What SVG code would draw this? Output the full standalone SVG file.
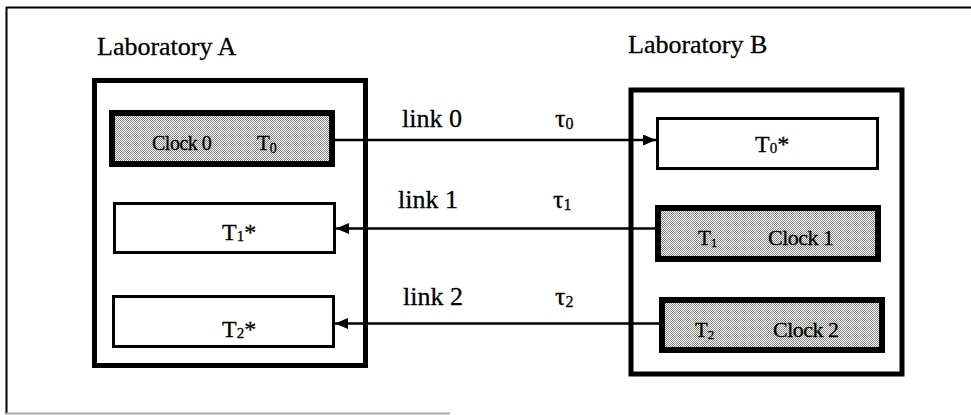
<svg xmlns="http://www.w3.org/2000/svg" width="971" height="415" viewBox="0 0 971 415">
  <style>
    .lab { fill: none; stroke: #000; stroke-width: 5; }
    .thin { fill: #fff; stroke: #000; stroke-width: 3; }
    .clock { fill: url(#dots); stroke: #000; stroke-width: 6; }
    .t { font-family: "Liberation Serif", "Times New Roman", serif; fill: #000; stroke: #000; stroke-width: 0.3; }
    .big { font-size: 26px; }
    .mid { font-size: 24px; }
    .link { stroke: #000; stroke-width: 2.5; fill: none; }
  </style>
  <defs>
    <pattern id="dots" x="0" y="0" width="2" height="2" patternUnits="userSpaceOnUse">
      <rect x="0" y="0" width="2" height="2" fill="#ffffff"/>
      <rect x="0" y="0" width="1" height="1" fill="#858585"/>
      <rect x="1" y="1" width="1" height="1" fill="#858585"/>
    </pattern>
    <marker id="arrow" viewBox="0 0 13 11" refX="13" refY="5.5" markerWidth="13" markerHeight="11" markerUnits="userSpaceOnUse" orient="auto">
      <path d="M0,0 L13,5.5 L0,11 Z" fill="#000"/>
    </marker>
  </defs>
  <rect width="971" height="415" fill="#fff"/>
  <g id="frame">
    <line x1="6" y1="7.5" x2="971" y2="7.5" stroke="#000" stroke-width="2"/>
    <line x1="6.5" y1="7" x2="6.5" y2="414" stroke="#000" stroke-width="2"/>
    <line x1="6" y1="413.5" x2="450" y2="413.5" stroke="#aaa" stroke-width="2"/>
  </g>
  <g id="labA">
    <rect class="lab" x="94.5" y="80.5" width="271" height="285"/>
    <text class="t big" x="97" y="55">Laboratory A</text>
  </g>
  <g id="labB">
    <rect class="lab" x="631" y="90" width="271" height="284" stroke-width="6"/>
    <text class="t big" x="628" y="53">Laboratory B</text>
  </g>
  <g id="clock0">
    <rect class="clock" x="112" y="113" width="220" height="51"/>
    <text class="t" x="152" y="150" font-size="20" letter-spacing="-0.5">Clock 0</text>
    <text class="t" x="257" y="150" font-size="21">T<tspan font-size="14" dy="3">0</tspan></text>
  </g>
  <g id="t1star">
    <rect class="thin" x="114.5" y="203.5" width="220" height="49"/>
    <text class="t mid" x="222" y="240">T<tspan font-size="15" dy="1">1</tspan><tspan dy="-1">*</tspan></text>
  </g>
  <g id="t2star">
    <rect class="thin" x="113.5" y="296.5" width="220" height="50"/>
    <text class="t mid" x="222" y="337">T<tspan font-size="15" dy="1">2</tspan><tspan dy="-1">*</tspan></text>
  </g>
  <g id="t0star">
    <rect class="thin" x="657.5" y="118.5" width="220" height="50"/>
    <text class="t mid" x="755" y="152">T<tspan font-size="15" dy="1">0</tspan><tspan dy="-1">*</tspan></text>
  </g>
  <g id="clock1">
    <rect class="clock" x="658" y="208" width="220" height="51"/>
    <text class="t" x="698" y="245" font-size="21">T<tspan font-size="13" dy="2">1</tspan></text>
    <text class="t" x="768" y="245" font-size="22" letter-spacing="-0.5">Clock 1</text>
  </g>
  <g id="clock2">
    <rect class="clock" x="662" y="300" width="220" height="50"/>
    <text class="t" x="695" y="337" font-size="21">T<tspan font-size="13" dy="2">2</tspan></text>
    <text class="t" x="773" y="337" font-size="22" letter-spacing="-0.5">Clock 2</text>
  </g>
  <g id="connectors">
    <line class="link" x1="335" y1="140" x2="656" y2="140" marker-end="url(#arrow)"/>
    <line class="link" x1="655" y1="228.5" x2="336" y2="228.5" marker-end="url(#arrow)"/>
    <line class="link" x1="659" y1="323.5" x2="335" y2="323.5" marker-end="url(#arrow)"/>
  </g>
  <g id="labels">
    <text class="t big" x="402" y="127">link 0</text>
    <text class="t big" x="555" y="127">τ<tspan font-size="16" dy="2">0</tspan></text>
    <text class="t big" x="398" y="208">link 1</text>
    <text class="t big" x="553" y="208">τ<tspan font-size="16" dy="2">1</tspan></text>
    <text class="t big" x="403" y="305">link 2</text>
    <text class="t big" x="555" y="305">τ<tspan font-size="16" dy="2">2</tspan></text>
  </g>
</svg>
